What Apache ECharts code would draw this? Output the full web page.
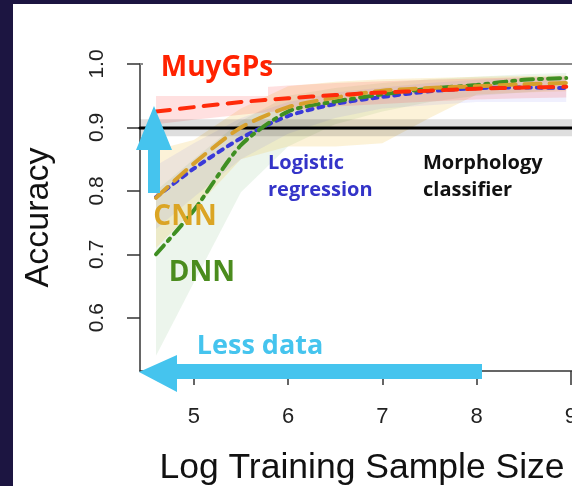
<!DOCTYPE html>
<html>
<head>
<meta charset="utf-8">
<script src="https://cdn.jsdelivr.net/npm/echarts@6/dist/echarts.min.js"></script>
<style>
  html, body { margin: 0; padding: 0; background: #1c1541; width: 572px; height: 486px; overflow: hidden; }
  #chart { position: absolute; left: 13px; top: 4px; width: 559px; height: 482px; background: #fff; }
</style>
</head>
<body>
<div id="chart"></div>
<script>
// log10 of training sample size
var logN = [4.6, 5.0, 5.5, 6.0, 6.5, 7.0, 7.5, 8.0, 8.5, 8.95];

var muygps   = [0.925, 0.932, 0.940, 0.946, 0.951, 0.955, 0.958, 0.961, 0.963, 0.964];
var muygpsLo = [0.905, 0.912, 0.920, 0.927, 0.933, 0.937, 0.941, 0.944, 0.946, 0.947];
var muygpsHi = [0.950, 0.955, 0.961, 0.966, 0.970, 0.973, 0.975, 0.977, 0.979, 0.980];

var cnn   = [0.789, 0.843, 0.900, 0.932, 0.947, 0.958, 0.962, 0.965, 0.968, 0.970];
var cnnLo = [0.710, 0.770, 0.850, 0.870, 0.870, 0.875, 0.915, 0.952, 0.955, 0.957];
var cnnHi = [0.865, 0.880, 0.930, 0.965, 0.972, 0.976, 0.978, 0.980, 0.981, 0.982];

var logit   = [0.790, 0.835, 0.883, 0.918, 0.937, 0.948, 0.957, 0.962, 0.963, 0.962];
var logitLo = [0.740, 0.790, 0.850, 0.890, 0.915, 0.930, 0.935, 0.940, 0.940, 0.940];
var logitHi = [0.840, 0.875, 0.915, 0.940, 0.955, 0.963, 0.970, 0.975, 0.978, 0.980];

var dnn   = [0.700, 0.769, 0.872, 0.925, 0.941, 0.952, 0.961, 0.967, 0.975, 0.978];
var dnnLo = [0.540, 0.655, 0.798, 0.870, 0.905, 0.925, 0.940, 0.950, 0.955, 0.960];
var dnnHi = [0.800, 0.850, 0.910, 0.950, 0.962, 0.970, 0.976, 0.980, 0.984, 0.986];

var morphX  = [4.43, 9.011];
var morph   = [0.899, 0.899];
var morphLo = [0.886, 0.886];
var morphHi = [0.913, 0.913];

var xTicks = [5, 6, 7, 8, 9];
var yTicks = [0.6, 0.7, 0.8, 0.9, 1.0];

function pairs(xs, ys) {
  return xs.map(function (x, i) { return [x, ys[i]]; });
}

function band(xs, lo, hi, color) {
  return {
    type: 'custom',
    silent: true,
    z: 1,
    clip: true,
    encode: { x: 0, y: [1, 2] },
    data: xs.map(function (x, i) { return [x, lo[i], hi[i]]; }),
    renderItem: function (params, api) {
      if (params.dataIndex !== 0) return null;
      var pts = [];
      for (var i = 0; i < xs.length; i++) pts.push(api.coord([xs[i], hi[i]]));
      for (var j = xs.length - 1; j >= 0; j--) pts.push(api.coord([xs[j], lo[j]]));
      return { type: 'polygon', shape: { points: pts }, style: { fill: color } };
    }
  };
}

function line(name, xs, ys, color, dash, width) {
  return {
    name: name,
    type: 'line',
    data: pairs(xs, ys),
    showSymbol: false,
    smooth: 0.25,
    z: 3,
    lineStyle: { color: color, width: width, type: dash, cap: 'round' }
  };
}

var chart = echarts.init(document.getElementById('chart'));

var morphSeries = line('Morphology classifier', morphX, morph, '#000', 'solid', 3);
// top frame line of the plot box at accuracy 1.0
morphSeries.markLine = {
  silent: true, symbol: 'none', label: { show: false },
  lineStyle: { color: '#8a8a8a', width: 2, type: 'solid' },
  data: [{ yAxis: 1.0 }]
};

chart.setOption({
  animation: false,
  backgroundColor: '#fff',
  grid: { left: 127, top: 60, right: 0, bottom: 115, outerBoundsMode: 'none', containLabel: false },
  xAxis: {
    type: 'value', min: 4.43, max: 9.011,
    name: 'Log Training Sample Size',
    nameLocation: 'middle', nameGap: 79,
    nameTextStyle: { fontFamily: 'Liberation Sans', fontSize: 35.5, color: '#111', padding: [0, 0, 0, 12] },
    axisLine: { show: true, onZero: false, lineStyle: { color: '#333', width: 1.5 } },
    axisTick: { show: true, length: 14, customValues: xTicks, lineStyle: { color: '#333', width: 1.5 } },
    axisLabel: {
      customValues: xTicks, margin: 35, fontFamily: 'Liberation Sans', fontSize: 22, color: '#222',
      formatter: function (v) { return String(v); }
    },
    splitLine: { show: false }
  },
  yAxis: {
    type: 'value', min: 0.516, max: 1.0,
    name: 'Accuracy',
    nameLocation: 'middle', nameGap: 84, nameRotate: 90,
    nameTextStyle: { fontFamily: 'Liberation Sans', fontSize: 34, color: '#111' },
    axisLine: { show: true, onZero: false, lineStyle: { color: '#333', width: 1.5 } },
    axisTick: { show: true, length: 13, customValues: yTicks, lineStyle: { color: '#333', width: 1.5 } },
    axisLabel: {
      customValues: yTicks, rotate: 90, margin: 32, fontFamily: 'Liberation Sans', fontSize: 21, color: '#222',
      formatter: function (v) { return v.toFixed(1); }
    },
    splitLine: { show: false }
  },
  series: [
    band(logN, dnnLo, dnnHi, 'rgba(70,160,70,0.10)'),
    band(logN, cnnLo, cnnHi, 'rgba(240,190,60,0.20)'),
    band(logN, logitLo, logitHi, 'rgba(90,90,240,0.09)'),
    band(logN, muygpsLo, muygpsHi, 'rgba(255,60,60,0.16)'),
    band(morphX, morphLo, morphHi, 'rgba(0,0,0,0.13)'),
    morphSeries,
    line('Logistic regression', logN, logit, '#3a3ad8', [5, 6], 4),
    line('DNN', logN, dnn, '#3f8f22', [12, 6, 3, 6], 4),
    line('CNN', logN, cnn, '#d7a02c', [16, 9], 4),
    line('MuyGPs', logN, muygps, '#ff2a0a', [14, 10], 4)
  ],
  graphic: [
    // white box behind the MuyGPs label
    { type: 'rect', z: 100, shape: { x: 130, y: 36, width: 125, height: 56 }, style: { fill: '#fff' } },
    { type: 'text', z: 101, x: 204, y: 64, style: {
      text: 'MuyGPs', fill: '#ff2200', font: 'bold 28px "Open Sans"', align: 'center', verticalAlign: 'middle' } },
    { type: 'text', z: 101, x: 172, y: 213, style: {
      text: 'CNN', fill: '#dba524', font: 'bold 28px "Open Sans"', align: 'center', verticalAlign: 'middle' } },
    { type: 'text', z: 101, x: 189, y: 269, style: {
      text: 'DNN', fill: '#4b8c1e', font: 'bold 28px "Open Sans"', align: 'center', verticalAlign: 'middle' } },
    { type: 'text', z: 101, x: 255, y: 146, style: {
      text: 'Logistic\nregression', fill: '#3434c8', font: 'bold 20px "Open Sans"', lineHeight: 27,
      align: 'left', verticalAlign: 'top' } },
    { type: 'text', z: 101, x: 410, y: 146, style: {
      text: 'Morphology\nclassifier', fill: '#111', font: 'bold 20px "Open Sans"', lineHeight: 27,
      align: 'left', verticalAlign: 'top' } },
    { type: 'text', z: 101, x: 247, y: 342, style: {
      text: 'Less data', fill: '#45c4ee', font: 'bold 27px "Open Sans"', align: 'center', verticalAlign: 'middle' } },
    // up arrow
    { type: 'polygon', z: 100, shape: { points: [[141, 102], [159, 146], [147, 146], [147, 189], [135, 189], [135, 146], [123, 146]] },
      style: { fill: '#45c4ee' } },
    // left arrow
    { type: 'polygon', z: 100, shape: { points: [[126, 368], [164, 351], [164, 360], [469, 360], [469, 375], [164, 375], [164, 388]] },
      style: { fill: '#45c4ee' } }
  ]
});
</script>
</body>
</html>
